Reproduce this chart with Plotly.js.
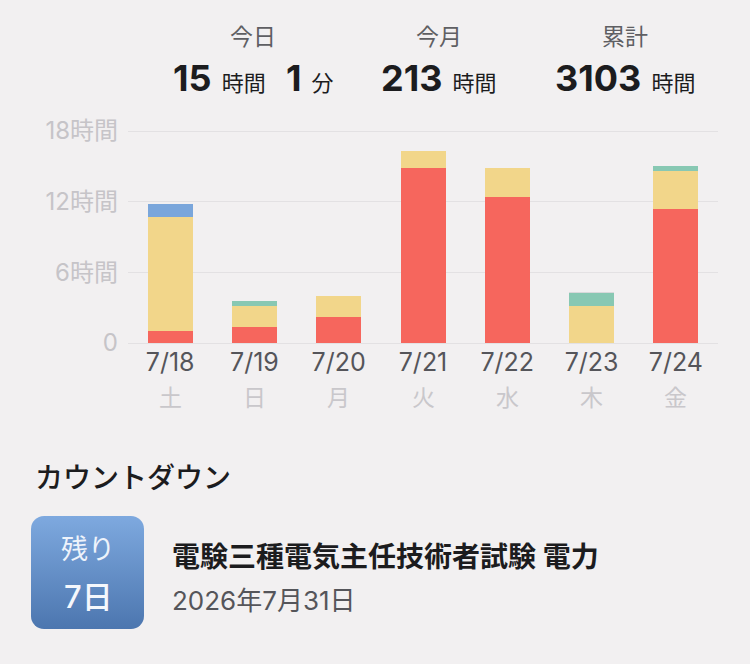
<!DOCTYPE html>
<html>
<head>
<meta charset="utf-8">
<script src="https://cdn.plot.ly/plotly-3.0.1.min.js"></script>
<style>
html,body{margin:0;padding:0;background:#F2F0F1;}
#chart{width:750px;height:664px;}
</style>
</head>
<body>
<div id="chart"></div>
<script>
// ---- data ----
const days = ['7/18','7/19','7/20','7/21','7/22','7/23','7/24'];
const weekdays = ['土','日','月','火','水','木','金'];
const redHours    = [1.02, 1.36, 2.21, 14.87, 12.43, 0.00, 11.35];
const yellowHours = [9.70, 1.76, 1.79, 1.39, 2.46, 3.12, 3.26];
const tealHours   = [0.00, 0.45, 0.00, 0.00, 0.00, 1.11, 0.43];
const blueHours   = [1.06, 0.00, 0.00, 0.00, 0.00, 0.00, 0.00];
const greyHours   = [0.00, 0.00, 0.00, 0.00, 0.00, 0.08, 0.00];
const yTickVals = [0, 6, 12, 18];
const yTickText = ['0', '6時間', '12時間', '18時間'];
const statLabels = ['今日', '今月', '累計'];
const countdownTitle = 'カウントダウン';
const examName = '電験三種電気主任技術者試験 電力';
const examDate = '2026年7月31日';
const remainDays = 7;

// ---- layout helpers (pixel -> paper) ----
const W = 750, H = 664;
const M = {l: 128, r: 32, t: 127, b: 321};
const PW = W - M.l - M.r, PH = H - M.t - M.b;
const px = x => (x - M.l) / PW;
const py = y => (H - M.b - y) / PH;

const FONT = 'Inter, "Noto Sans CJK JP", sans-serif';

function barTrace(vals, color) {
  return {type: 'bar', x: days, y: vals, marker: {color: color, line: {width: 0}},
          hoverinfo: 'skip', showlegend: false};
}
const traces = [
  barTrace(redHours, '#F6665D'),
  barTrace(yellowHours, '#F2D68A'),
  barTrace(tealHours, '#88C8B3'),
  barTrace(blueHours, '#7AA6DB'),
  barTrace(greyHours, '#D9D9DB')
];

const annotations = [];
// weekday row
weekdays.forEach((w, i) => {
  annotations.push({x: days[i], xref: 'x', y: py(398), yref: 'paper', text: w,
    showarrow: false, xanchor: 'center', yanchor: 'middle',
    font: {family: FONT, size: 23, color: '#C9C7CB'}});
});
// top stats
const statX = [253, 439, 625];
statLabels.forEach((s, i) => {
  annotations.push({x: px(statX[i]), xref: 'paper', y: py(37), yref: 'paper', text: s,
    showarrow: false, xanchor: 'center', yanchor: 'middle',
    font: {family: FONT, size: 23, color: '#5F5F63'}});
});
const big = t => '<b>' + t + '</b>';
const small = t => '<span style="font-size:22px">' + t + '</span>';
const statValues = [
  big('15') + ' ' + small('時間') + '  ' + big('1') + ' ' + small('分'),
  big('213') + ' ' + small('時間'),
  big('3103') + ' ' + small('時間')
];
statValues.forEach((v, i) => {
  annotations.push({x: px(statX[i]), xref: 'paper', y: py(78), yref: 'paper', text: v,
    showarrow: false, xanchor: 'center', yanchor: 'middle',
    font: {family: FONT, size: 36, color: '#1C1C1E'}});
});
// countdown
annotations.push({x: px(33), xref: 'paper', y: py(478), yref: 'paper', text: countdownTitle,
  showarrow: false, xanchor: 'left', yanchor: 'middle',
  font: {family: FONT, size: 28, color: '#1C1C1E', weight: 500}});
annotations.push({x: px(88), xref: 'paper', y: py(549), yref: 'paper', text: '残り',
  showarrow: false, xanchor: 'center', yanchor: 'middle',
  font: {family: FONT, size: 27, color: '#EEF3FB'}});
annotations.push({x: px(88), xref: 'paper', y: py(596), yref: 'paper', text: remainDays + '日',
  showarrow: false, xanchor: 'center', yanchor: 'middle',
  font: {family: FONT, size: 31, color: '#F4F7FC', weight: 500}});
annotations.push({x: px(170), xref: 'paper', y: py(557), yref: 'paper', text: '<b>' + examName + '</b>',
  showarrow: false, xanchor: 'left', yanchor: 'middle',
  font: {family: FONT, size: 28, color: '#1C1C1E'}});
annotations.push({x: px(170), xref: 'paper', y: py(600), yref: 'paper', text: examDate,
  showarrow: false, xanchor: 'left', yanchor: 'middle',
  font: {family: FONT, size: 26, color: '#55555A'}});

// gradient box as inline SVG image
const boxSvg = '<svg xmlns="http://www.w3.org/2000/svg" width="113" height="113" viewBox="0 0 113 113">' +
  '<defs><linearGradient id="g" x1="0" y1="0" x2="0" y2="1">' +
  '<stop offset="0" stop-color="#7EA9DF"/><stop offset="1" stop-color="#4C76AF"/></linearGradient></defs>' +
  '<rect x="0" y="0" width="113" height="113" rx="13" ry="13" fill="url(#g)"/></svg>';
const boxSrc = 'data:image/svg+xml;charset=utf-8,' + encodeURIComponent(boxSvg);

const layout = {
  width: W, height: H,
  margin: M,
  paper_bgcolor: '#F2F0F1', plot_bgcolor: '#F2F0F1',
  barmode: 'stack', bargap: 0.466,
  showlegend: false,
  font: {family: FONT},
  xaxis: {type: 'category', showgrid: false, zeroline: false, showline: false, ticks: '',
    tickfont: {family: FONT, size: 25, color: '#55555A'}, ticklabelstandoff: 2, fixedrange: true},
  yaxis: {range: [0, PH / (212 / 18)], tickvals: yTickVals, ticktext: yTickText,
    showgrid: true, gridcolor: '#E3E1E3', gridwidth: 1, zeroline: true, zerolinecolor: '#E3E1E3',
    zerolinewidth: 1, ticks: '', ticklabelstandoff: 9, showline: false,
    tickfont: {family: FONT, size: 24, color: '#C6C4C8'}, fixedrange: true},
  annotations: annotations,
  images: [{source: boxSrc, xref: 'paper', yref: 'paper', x: px(31), y: py(516),
    sizex: 113 / PW, sizey: 113 / PH, xanchor: 'left', yanchor: 'top', sizing: 'stretch', layer: 'below'}]
};

Plotly.newPlot('chart', traces, layout, {staticPlot: true, displayModeBar: false});
</script>
</body>
</html>
